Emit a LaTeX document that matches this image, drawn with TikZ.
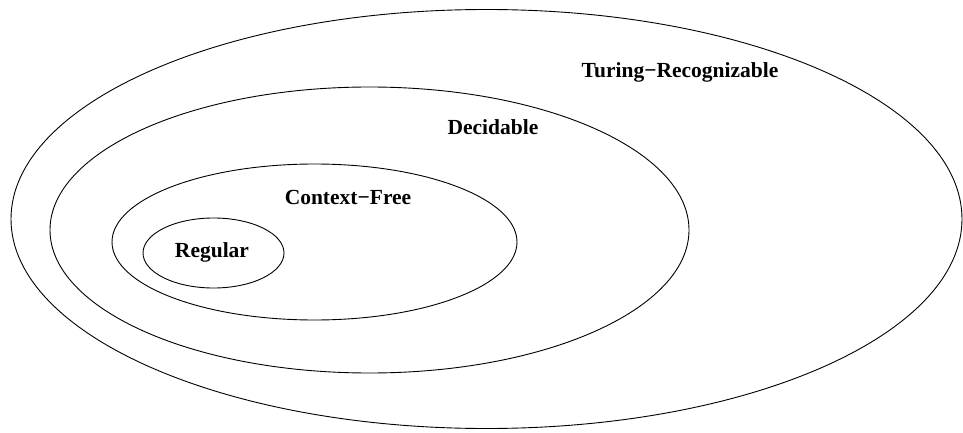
\documentclass[tikz,border=0pt]{standalone}
\usepackage{fontspec}
\setmainfont{Liberation Serif}
\begin{document}
\begin{tikzpicture}[x=1pt,y=-1pt,
  setline/.style={draw=black,line width=0.9pt},
  setlabel/.style={font=\fontsize{21.5}{24}\selectfont\bfseries,inner sep=0pt}]
\useasboundingbox (0,0) rectangle (963,433);
% nested language classes
\draw[setline] (486.5,219) ellipse [x radius=475.5, y radius=209.5];
\draw[setline] (369.5,230) ellipse [x radius=319.5, y radius=143];
\draw[setline] (314.5,242) ellipse [x radius=202.5, y radius=78];
\draw[setline] (213.5,253) ellipse [x radius=70.5, y radius=35];
% class names
\node[setlabel] (tr) at (680,72) {Turing−Recognizable};
\node[setlabel] (dec) at (493,127) {Decidable};
\node[setlabel] (cf) at (348,197) {Context−Free};
\node[setlabel] (reg) at (212,252) {Regular};
\end{tikzpicture}
\end{document}
